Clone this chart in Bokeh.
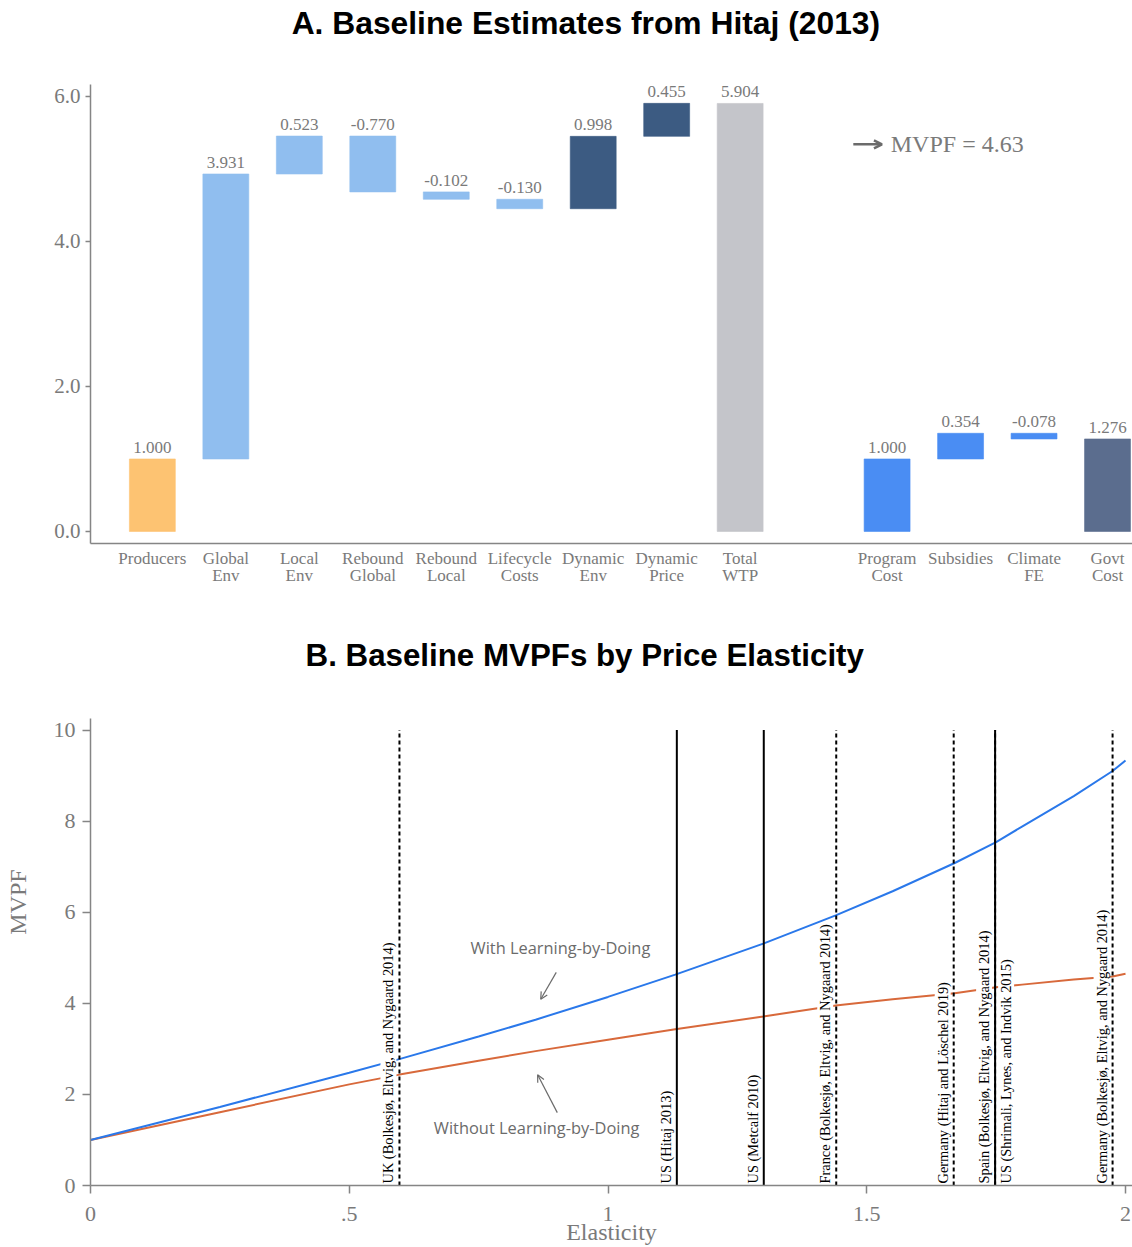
import math
from bokeh.plotting import figure
from bokeh.models import (ColumnDataSource, Range1d, FixedTicker, LabelSet, Label,
                          Arrow, OpenHead)
from bokeh.layouts import column
from bokeh.embed import file_html
from bokeh.resources import INLINE
from bokeh.core.properties import value

# ---------------- Panel A data ----------------
title_a = "A. Baseline Estimates from Hitaj (2013)"
wtp_categories = ["Producers", "Global\nEnv", "Local\nEnv", "Rebound\nGlobal", "Rebound\nLocal",
                  "Lifecycle\nCosts", "Dynamic\nEnv", "Dynamic\nPrice", "Total\nWTP"]
wtp_values = [1.000, 3.931, 0.523, -0.770, -0.102, -0.130, 0.998, 0.455, 5.904]
cost_categories = ["Program\nCost", "Subsidies", "Climate\nFE", "Govt\nCost"]
cost_values = [1.000, 0.354, -0.078, 1.276]
mvpf_value = 4.63

# ---------------- Panel B data ----------------
title_b = "B. Baseline MVPFs by Price Elasticity"
elasticity = [0.0, 0.25, 0.5, 0.6, 0.75, 0.86, 1.0, 1.13, 1.3, 1.44, 1.55, 1.67, 1.75, 1.8, 1.9, 1.975, 2.0]
mvpf_with_lbd = [1.0, 1.725, 2.475, 2.785, 3.27, 3.64, 4.14, 4.63, 5.31, 5.93, 6.46, 7.08, 7.54, 7.88, 8.55, 9.10, 9.33]
mvpf_without_lbd = [1.0, 1.61, 2.22, 2.44, 2.74, 2.95, 3.20, 3.43, 3.71, 3.95, 4.09, 4.22, 4.35, 4.41, 4.52, 4.59, 4.65]
study_names = ["UK (Bolkesjø, Eltvig, and Nygaard 2014)", "US (Hitaj 2013)", "US (Metcalf 2010)",
               "France (Bolkesjø, Eltvig, and Nygaard 2014)", "Germany (Hitaj and Löschel 2019)",
               "Spain (Bolkesjø, Eltvig, and Nygaard 2014)", "US (Shrimali, Lynes, and Indvik 2015)",
               "Germany (Bolkesjø, Eltvig, and Nygaard 2014)"]
study_elasticity = [0.597, 1.133, 1.301, 1.441, 1.668, 1.748, 1.748, 1.975]
study_is_us = [False, True, True, False, False, False, True, False]

SERIF = "Liberation Serif"
GRAY_TXT = "#7a7a7a"
AXIS_GRAY = "#858585"


def waterfall(vals):
    bottoms, tops = [], []
    run = 0.0
    for v in vals[:-1]:
        b, t = run, run + v
        bottoms.append(min(b, t))
        tops.append(max(b, t))
        run += v
    bottoms.append(0.0)
    tops.append(vals[-1])
    return bottoms, tops


wb, wt = waterfall(wtp_values)
cb, ct = waterfall(cost_values)
xpos = list(range(1, len(wtp_values) + 1)) + list(range(len(wtp_values) + 2, len(wtp_values) + 2 + len(cost_values)))
bar_colors = ["#FDC372"] + ["#90BEEF"] * 5 + ["#3C5B82"] * 2 + ["#C4C5CA"] + ["#4A8DF3"] * 3 + ["#5B6D8E"]
srcA = ColumnDataSource(dict(
    x=xpos, bottom=wb + cb, top=wt + ct, color=bar_colors,
    label=["%.3f" % v for v in wtp_values + cost_values],
))

pA = figure(width=1132, height=618, x_range=Range1d(0.158, 14.34), y_range=Range1d(-0.166, 7.324),
            output_backend="svg", toolbar_location=None, title=None,
            min_border_left=88, min_border_right=0, min_border_top=0, min_border_bottom=75)
pA.add_layout(Label(x=6.90, y=7.02, text=title_a, text_align="center", text_baseline="middle",
                    text_font="Liberation Sans", text_font_size="31.8px", text_font_style="bold",
                    text_color="black"))
pA.vbar(x="x", bottom="bottom", top="top", width=0.625, fill_color="color",
        line_color="color", line_alpha=0.6, source=srcA)
pA.add_layout(LabelSet(x="x", y="top", text="label", source=srcA, text_align="center",
                       text_baseline="bottom", y_offset=6, text_font=value(SERIF),
                       text_font_size="17px", text_color=GRAY_TXT))
pA.add_layout(Arrow(end=OpenHead(size=8, line_color="#6b6b6b", line_width=2.5),
                    x_start=10.54, y_start=5.34, x_end=10.93, y_end=5.34,
                    line_color="#6b6b6b", line_width=2.5))
pA.add_layout(Label(x=11.05, y=5.34, text="MVPF = %.2f" % mvpf_value, text_baseline="middle",
                    text_font=SERIF, text_font_size="24px", text_color=GRAY_TXT))

pA.xgrid.visible = False
pA.ygrid.visible = False
pA.outline_line_color = None
pA.yaxis.ticker = FixedTicker(ticks=[0, 2, 4, 6])
pA.yaxis.bounds = (-0.166, 6.166)
pA.yaxis.major_label_overrides = {0: "0.0", 2: "2.0", 4: "4.0", 6: "6.0"}
pA.xaxis.ticker = FixedTicker(ticks=xpos)
pA.xaxis.major_label_overrides = {x: c for x, c in zip(xpos, wtp_categories + cost_categories)}
for ax in (pA.xaxis[0], pA.yaxis[0]):
    ax.axis_line_color = AXIS_GRAY
    ax.axis_line_width = 1.5
    ax.major_tick_line_color = AXIS_GRAY
    ax.major_tick_line_width = 1.5
    ax.minor_tick_line_color = None
    ax.major_tick_in = 0
    ax.major_label_text_font = SERIF
    ax.major_label_text_color = GRAY_TXT
pA.yaxis.major_tick_out = 5
pA.yaxis.major_label_text_font_size = "21px"
pA.xaxis.major_tick_out = 0
pA.xaxis.major_label_standoff = 5
pA.xaxis.major_label_text_font_size = "17px"
pA.xaxis.major_label_text_line_height = 0.9

# ---------------- Panel B ----------------
pB = figure(width=1132, height=629, x_range=Range1d(0, 2.0135), y_range=Range1d(0, 12.448),
            output_backend="svg", toolbar_location=None, title=None,
            min_border_left=90, min_border_right=0, min_border_top=0, min_border_bottom=60)
pB.add_layout(Label(x=0.955, y=11.64, text=title_b, text_align="center", text_baseline="middle",
                    text_font="Liberation Sans", text_font_size="31.3px", text_font_style="bold",
                    text_color="black"))

pB.line(elasticity, mvpf_without_lbd, line_color="#D8693B", line_width=2)
pB.line(elasticity, mvpf_with_lbd, line_color="#2A78EA", line_width=2)

dash_src = ColumnDataSource(dict(
    x=[e for e, u in zip(study_elasticity, study_is_us) if not u],
    y0=[0] * sum(1 for u in study_is_us if not u),
    y1=[10] * sum(1 for u in study_is_us if not u)))
solid_src = ColumnDataSource(dict(
    x=[e for e, u in zip(study_elasticity, study_is_us) if u],
    y0=[0] * sum(1 for u in study_is_us if u),
    y1=[10] * sum(1 for u in study_is_us if u)))
pB.segment(x0="x", y0="y0", x1="x", y1="y1", source=dash_src, line_color="black",
           line_width=2, line_dash="4 3")
pB.segment(x0="x", y0="y0", x1="x", y1="y1", source=solid_src, line_color="black", line_width=2)

right_side = [n.startswith("US (Shrimali") for n in study_names]
left_lab = ColumnDataSource(dict(
    x=[e for e, r in zip(study_elasticity, right_side) if not r],
    y=[0] * sum(1 for r in right_side if not r),
    text=[n for n, r in zip(study_names, right_side) if not r]))
right_lab = ColumnDataSource(dict(
    x=[e for e, r in zip(study_elasticity, right_side) if r],
    y=[0] * sum(1 for r in right_side if r),
    text=[n for n, r in zip(study_names, right_side) if r]))
pB.add_layout(LabelSet(x="x", y="y", text="text", source=left_lab, angle=math.pi / 2,
                       text_align="left", text_baseline="bottom", x_offset=-3, y_offset=2,
                       text_font=value(SERIF), text_font_size="14.4px", text_color="black",
                       background_fill_color="white"))
pB.add_layout(LabelSet(x="x", y="y", text="text", source=right_lab, angle=math.pi / 2,
                       text_align="left", text_baseline="top", x_offset=3, y_offset=2,
                       text_font=value(SERIF), text_font_size="14.4px", text_color="black",
                       background_fill_color="white"))

ANN_FONT = "Open Sans"
pB.add_layout(Label(x=0.908, y=5.23, text="With Learning-by-Doing", text_align="center",
                    text_baseline="middle", text_font=ANN_FONT, text_font_size="16.4px",
                    text_color="#6b6b6b"))
pB.add_layout(Label(x=0.862, y=1.27, text="Without Learning-by-Doing", text_align="center",
                    text_baseline="middle", text_font=ANN_FONT, text_font_size="16.4px",
                    text_color="#6b6b6b"))
pB.add_layout(Arrow(end=OpenHead(size=7, line_color="#6b6b6b", line_width=1.2),
                    x_start=0.900, y_start=4.68, x_end=0.870, y_end=4.09,
                    line_color="#6b6b6b", line_width=1.2))
pB.add_layout(Arrow(end=OpenHead(size=7, line_color="#6b6b6b", line_width=1.2),
                    x_start=0.902, y_start=1.60, x_end=0.864, y_end=2.43,
                    line_color="#6b6b6b", line_width=1.2))

pB.xgrid.visible = False
pB.ygrid.visible = False
pB.outline_line_color = None
pB.xaxis.ticker = FixedTicker(ticks=[0, 0.5, 1, 1.5, 2])
pB.xaxis.major_label_overrides = {0: "0", 0.5: ".5", 1: "1", 1.5: "1.5", 2: "2"}
pB.yaxis.ticker = FixedTicker(ticks=[0, 2, 4, 6, 8, 10])
pB.yaxis.bounds = (0, 10.26)
pB.xaxis.axis_label = "Elasticity"
pB.yaxis.axis_label = "MVPF"
for ax in (pB.xaxis[0], pB.yaxis[0]):
    ax.axis_line_color = AXIS_GRAY
    ax.axis_line_width = 1.5
    ax.major_tick_line_color = AXIS_GRAY
    ax.major_tick_line_width = 1.5
    ax.minor_tick_line_color = None
    ax.major_tick_in = 0
    ax.major_tick_out = 8
    ax.major_label_text_font = SERIF
    ax.major_label_text_color = GRAY_TXT
    ax.major_label_text_font_size = "22px"
    ax.axis_label_text_font = SERIF
    ax.axis_label_text_font_size = "24px"
    ax.axis_label_text_font_style = "normal"
    ax.axis_label_text_color = GRAY_TXT
pB.xaxis.major_label_standoff = 13
pB.xaxis.axis_label_standoff = -5
pB.yaxis.major_label_standoff = 7
pB.yaxis.axis_label_standoff = 20

layout = column(pA, pB, spacing=0)
open("out.html", "w").write(file_html(layout, INLINE))
